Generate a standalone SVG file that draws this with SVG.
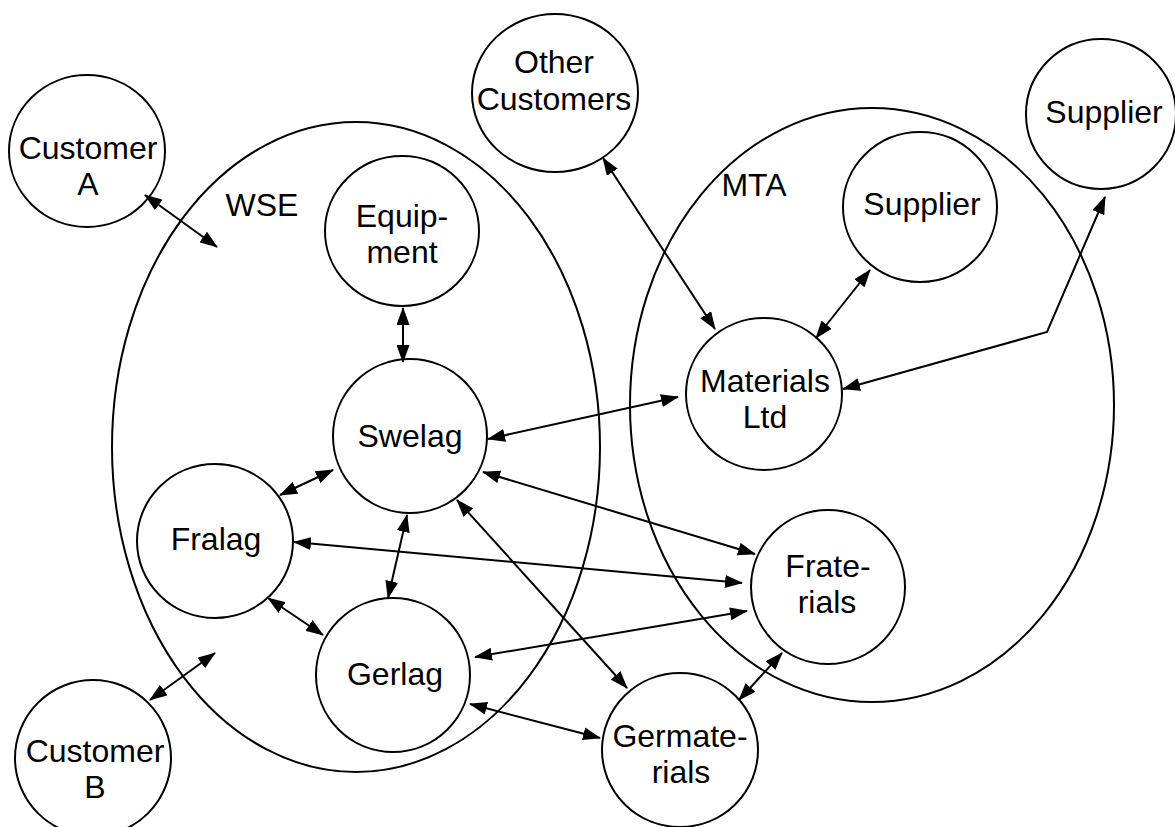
<svg xmlns="http://www.w3.org/2000/svg" width="1175" height="827" viewBox="0 0 1175 827">
<style>
.n ellipse{fill:none;stroke:#000;stroke-width:2}
.grp{fill:none;stroke:#000;stroke-width:2}
text{font-family:"Liberation Sans",Arial,Helvetica,sans-serif;font-size:32px;fill:#000;text-anchor:middle}
.c path{fill:none;stroke:#000;stroke-width:2;marker-start:url(#ah);marker-end:url(#ah)}
</style>
<defs>
<marker id="ah" viewBox="0 0 18 13" refX="17" refY="6.5" markerWidth="18" markerHeight="13" markerUnits="userSpaceOnUse" orient="auto-start-reverse">
<path d="M0,0 L18,6.5 L0,13 Z" fill="#000"/>
</marker>
</defs>
<rect width="1175" height="827" fill="#fff"/>
<g id="WSE"><ellipse class="grp" cx="356" cy="447" rx="244" ry="325"/><text x="262" y="216">WSE</text></g>
<g id="MTA"><ellipse class="grp" cx="872" cy="405" rx="242" ry="297"/><text x="754" y="196">MTA</text></g>
<g id="customerA" class="n"><ellipse cx="87" cy="151" rx="78" ry="76"/><text x="88" y="159">Customer</text><text x="88" y="195">A</text></g>
<g id="customerB" class="n"><ellipse cx="93" cy="758" rx="78" ry="78"/><text x="95" y="762">Customer</text><text x="95" y="798">B</text></g>
<g id="otherCustomers" class="n"><ellipse cx="555" cy="93" rx="83" ry="79"/><text x="554" y="73">Other</text><text x="554" y="110">Customers</text></g>
<g id="supplierOuter" class="n"><ellipse cx="1101" cy="114" rx="75" ry="75"/><text x="1104" y="123">Supplier</text></g>
<g id="supplierInner" class="n"><ellipse cx="920" cy="207" rx="77" ry="75"/><text x="922" y="215">Supplier</text></g>
<g id="equipment" class="n"><ellipse cx="402" cy="231" rx="77" ry="75"/><text x="402" y="227">Equip-</text><text x="402" y="263">ment</text></g>
<g id="swelag" class="n"><ellipse cx="410" cy="436" rx="77" ry="77"/><text x="410" y="447">Swelag</text></g>
<g id="fralag" class="n"><ellipse cx="215" cy="541" rx="78" ry="77"/><text x="216" y="550">Fralag</text></g>
<g id="gerlag" class="n"><ellipse cx="393" cy="675" rx="77" ry="77"/><text x="395" y="685">Gerlag</text></g>
<g id="materialsLtd" class="n"><ellipse cx="764" cy="394" rx="78" ry="76"/><text x="765" y="392">Materials</text><text x="765" y="428">Ltd</text></g>
<g id="fraterials" class="n"><ellipse cx="828" cy="587" rx="77" ry="77"/><text x="828" y="577">Frate-</text><text x="827" y="613">rials</text></g>
<g id="germaterials" class="n"><ellipse cx="680" cy="750" rx="78" ry="77"/><text x="680" y="747">Germate-</text><text x="681" y="783">rials</text></g>
<g id="connectors" class="c">
<path d="M145,195 L217,247"/>
<path d="M150,700 L215,653"/>
<path d="M603,158 L715,329"/>
<path d="M870,270 L816,338"/>
<path d="M1105,197 L1047,332 L843,389"/>
<path d="M403,308 L403,362"/>
<path d="M488,439 L678,397"/>
<path d="M483,472 L755,554"/>
<path d="M294,542 L742,583"/>
<path d="M333,470 L280,495"/>
<path d="M407,515 L388,598"/>
<path d="M457,500 L627,688"/>
<path d="M268,598 L323,635"/>
<path d="M475,657 L747,611"/>
<path d="M470,704 L600,738"/>
<path d="M782,653 L739,700"/>
</g>
</svg>
